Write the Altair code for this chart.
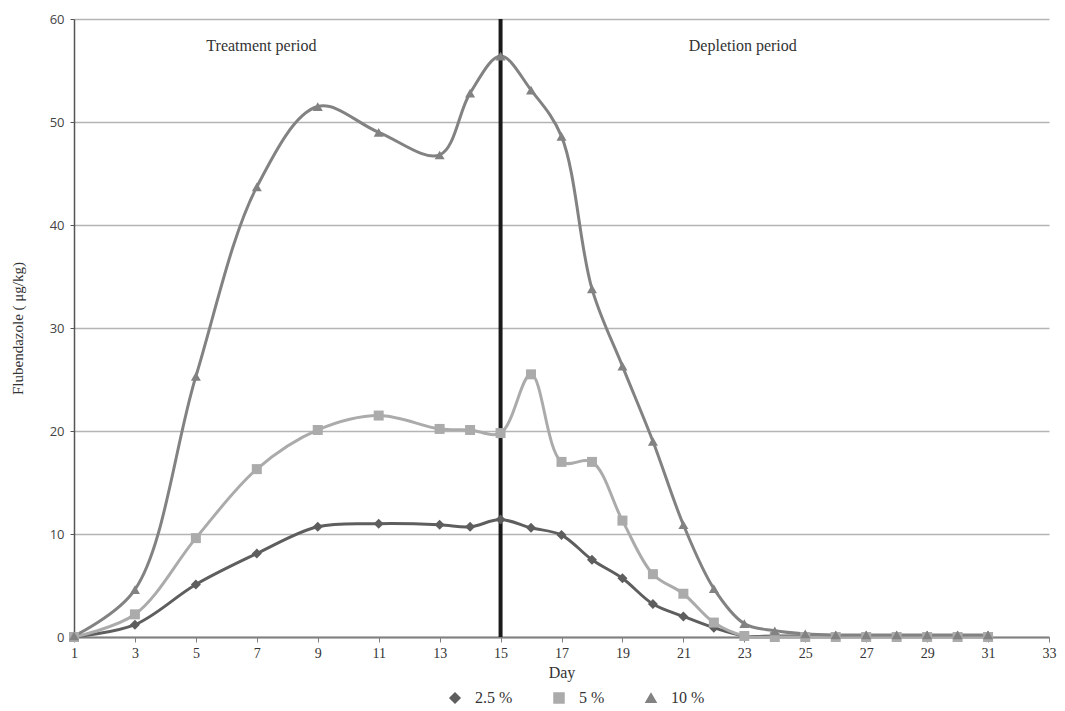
import altair as alt
import pandas as pd

days = [1, 3, 5, 7, 9, 11, 13, 14, 15, 16, 17, 18, 19, 20, 21, 22, 23, 24, 25, 26, 27, 28, 29, 30, 31]
c25 = [0.0, 1.2, 5.1, 8.1, 10.7, 11.0, 10.9, 10.7, 11.4, 10.6, 9.9, 7.5, 5.7, 3.2, 2.0, 0.9, 0.1, 0.1, 0.1, 0.1, 0.1, 0.1, 0.1, 0.1, 0.1]
c5 = [0.0, 2.2, 9.6, 16.3, 20.1, 21.5, 20.2, 20.1, 19.8, 25.5, 17.0, 17.0, 11.3, 6.1, 4.2, 1.4, 0.1, 0.0, 0.0, 0.0, 0.0, 0.0, 0.0, 0.0, 0.0]
c10 = [0.1, 4.6, 25.3, 43.7, 51.5, 49.0, 46.8, 52.8, 56.4, 53.1, 48.6, 33.8, 26.3, 19.0, 10.9, 4.7, 1.3, 0.6, 0.3, 0.2, 0.2, 0.2, 0.2, 0.2, 0.2]
series = ["2.5 %", "5 %", "10 %"]
colors = ["#5e5e5e", "#ababab", "#828282"]
shapes = ["diamond", "square", "triangle-up"]
x_ticks = list(range(1, 34, 2))
y_ticks = [0, 10, 20, 30, 40, 50, 60]
periods = ["Treatment period", "Depletion period"]
period_x = [7.15, 22.95]
period_y = [57.4, 57.4]
split_day = [15]

rows = []
for name, vals in zip(series, [c25, c5, c10]):
    for d, v in zip(days, vals):
        rows.append({"day": d, "value": v, "series": name})
df = pd.DataFrame(rows)

x_scale = alt.Scale(domain=[1, 33], nice=False, zero=False)
y_scale = alt.Scale(domain=[0, 60], nice=False)
color_scale = alt.Scale(domain=series, range=colors)
shape_scale = alt.Scale(domain=series, range=shapes)

legend = alt.Legend(
    title=None, orient="none", legendX=373, legendY=671, direction="horizontal",
    labelFont="Liberation Serif", labelFontSize=16, labelColor="#333333",
    symbolSize=100, columnPadding=38, labelOffset=12,
    symbolStrokeWidth=1.5, symbolStrokeColor="#555555")

x_enc = alt.X("day:Q", scale=x_scale, axis=alt.Axis(
    values=x_ticks, title="Day", grid=False, labelFont="Liberation Serif", labelFontSize=14,
    labelColor="#333333", titleFont="Liberation Serif", titleFontSize=16, titleFontWeight="normal",
    titleColor="#333333", domainColor="#808080", domainWidth=2, tickColor="#808080",
    tickSize=5, labelPadding=4, titlePadding=4, labelFlush=False, labelOverlap=False))
y_enc = alt.Y("value:Q", scale=y_scale, axis=alt.Axis(
    values=y_ticks, title="Flubendazole ( μg/kg)", grid=True, gridColor="#b4b4b4", gridWidth=1.3,
    labelFont="Open Sans", labelFontSize=13, labelColor="#444444", titleFont="Liberation Serif",
    titleFontSize=15, titleFontWeight="normal", titleColor="#333333", domainColor="#555555",
    domainWidth=1.5, tickColor="#555555", tickSize=4, labelPadding=6, titlePadding=24))

base = alt.Chart(df)

lines = base.mark_line(interpolate="catmull-rom", strokeWidth=3).encode(
    x=x_enc, y=y_enc,
    color=alt.Color("series:N", scale=color_scale, sort=series, legend=legend),
    detail="series:N",
    order="day:Q",
)

points = base.mark_point(filled=True, size=100, opacity=1).encode(
    x="day:Q", y="value:Q",
    color=alt.Color("series:N", scale=color_scale, sort=series, legend=legend),
    shape=alt.Shape("series:N", scale=shape_scale, sort=series, legend=legend),
)

split_df = pd.DataFrame({"day": split_day, "y0": [0], "y1": [60]})
rule = alt.Chart(split_df).mark_rule(color="#1a1a1a", strokeWidth=4).encode(
    x="day:Q", y="y0:Q", y2="y1:Q")

text_df = pd.DataFrame({"day": period_x, "value": period_y, "label": periods})
texts = alt.Chart(text_df).mark_text(font="Liberation Serif", fontSize=16, color="#333333").encode(
    x="day:Q", y="value:Q", text="label:N")

chart = alt.layer(lines, rule, points, texts).properties(
    width=975, height=618,
    autosize=alt.AutoSizeParams(type="none"),
    padding={"left": 66, "top": 11, "right": 8, "bottom": 72},
).configure_view(stroke=None)

chart.save("out.html", embed_options={"renderer": "svg", "actions": False})
